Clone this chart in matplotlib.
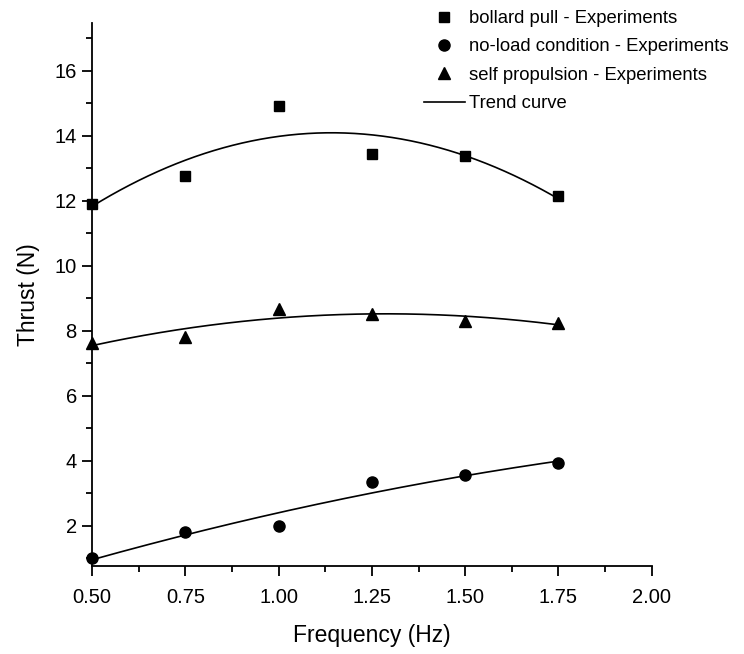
import numpy as np
import matplotlib
matplotlib.use("Agg")
import matplotlib.pyplot as plt
from matplotlib.lines import Line2D
from matplotlib.ticker import MultipleLocator, FormatStrFormatter

plt.rcParams['font.family'] = ['Liberation Sans', 'DejaVu Sans']

freq = [0.50, 0.75, 1.00, 1.25, 1.50, 1.75]
bollard = [11.90, 12.75, 14.90, 13.44, 13.36, 12.15]
no_load = [1.00, 1.80, 2.01, 3.34, 3.57, 3.92]
self_prop = [7.62, 7.80, 8.67, 8.51, 8.31, 8.24]

labels = ["bollard pull - Experiments",
          "no-load condition - Experiments",
          "self propulsion - Experiments",
          "Trend curve"]

fig = plt.figure(figsize=(7.44, 6.54), dpi=100)
ax = fig.add_axes([0.1237, 0.1346, 0.7523, 0.8307])

# quadratic trend curves fitted through the experiment points
xs = np.linspace(freq[0], freq[-1], 200)
for data, m, ms in [(bollard, 's', 7.5), (no_load, 'o', 8), (self_prop, '^', 8.5)]:
    coef = np.polyfit(freq, data, 2)
    ax.plot(xs, np.polyval(coef, xs), color='black', lw=1.2, zorder=2)
    ax.plot(freq, data, ls='none', marker=m, ms=ms, color='black', zorder=3, clip_on=False)

ax.set_xlim(0.5, 2.0)
ax.set_ylim(0.77, 17.47)
ax.xaxis.set_major_locator(MultipleLocator(0.25))
ax.xaxis.set_minor_locator(MultipleLocator(0.125))
ax.yaxis.set_minor_locator(MultipleLocator(1))
ax.set_yticks([2, 4, 6, 8, 10, 12, 14, 16])
ax.xaxis.set_major_formatter(FormatStrFormatter('%.2f'))

for s in ['top', 'right']:
    ax.spines[s].set_visible(False)
for s in ['left', 'bottom']:
    ax.spines[s].set_linewidth(1.3)
ax.tick_params(which='major', direction='out', length=7, width=1.3, labelsize=14.5)
ax.tick_params(axis='x', which='major', pad=9)
ax.tick_params(axis='y', which='major', pad=4)
ax.tick_params(which='minor', direction='out', length=4, width=1.3)

ax.set_xlabel("Frequency (Hz)", fontsize=16.5, labelpad=12)
ax.set_ylabel("Thrust (N)", fontsize=16.5, labelpad=10)

handles = [Line2D([], [], ls='none', marker='s', ms=7, color='black'),
           Line2D([], [], ls='none', marker='o', ms=8, color='black'),
           Line2D([], [], ls='none', marker='^', ms=8, color='black'),
           Line2D([], [], color='black', lw=1.2)]
fig.legend(handles, labels, loc='upper left', bbox_to_anchor=(0.560, 0.996),
           frameon=False, fontsize=13.3, handlelength=2.2, handletextpad=0.25,
           labelspacing=0.62, borderaxespad=0)

fig.savefig("out.png", dpi=100)
